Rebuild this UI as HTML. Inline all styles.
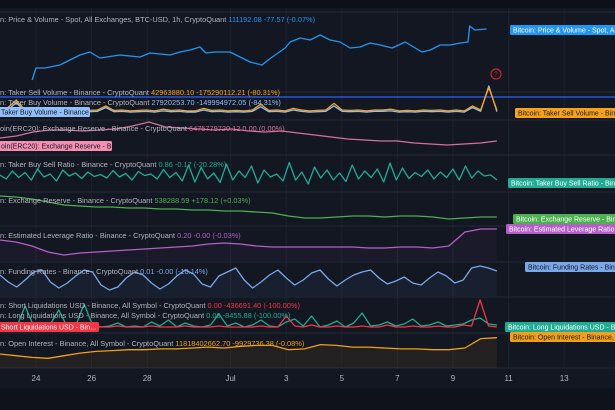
<!DOCTYPE html>
<html><head><meta charset="utf-8">
<style>
html,body{margin:0;padding:0;background:#131722;}
#wrap{position:relative;width:615px;height:410px;overflow:hidden;background:#131722;font-family:"Liberation Sans",sans-serif;}
svg{position:absolute;left:0;top:0;}
</style></head>
<body>
<div id="wrap">
<svg id="chart" width="615" height="410"></svg>
</div>
<script>
// ---- data ----
const dayTicks = ["24","26","28","Jul","3","5","7","9","11","13"];
const dayTickValues = [24,26,28,31,33,35,37,39,41,43];
const priceTimes = [23.86,24.0,24.32,24.86,25.58,25.94,26.3,27.02,27.74,28.1,28.82,29.18,29.54,29.9,30.11,30.44,30.98,31.34,31.7,32.13,32.35,32.96,33.14,33.5,33.86,34.22,34.58,34.94,35.3,35.66,36.02,36.38,36.81,37.28,37.64,37.89,38.18,38.54,38.9,39.26,39.54,39.6,39.78,40.2];
const priceValues = [99750,102375,102375,103031,105219,105875,104563,105219,104781,105656,105219,105875,106313,106969,105656,105875,105875,104781,103688,103031,104125,106750,108063,108938,108500,109594,108500,108063,106750,106969,107844,107406,106750,108063,106750,105875,106313,107406,107406,107844,108063,111563,110688,110906];
const takerSellM = [60,90,180,70,60,50,55,50,60,70,50,55,60,110,55,60,50,55,60,50,70,55,60,50,50,80,55,60,50,55,50,60,130,55,60,50,80,60,50,55,60,140,60,55,60,50,60,60,70,50,55,50,60,55,60,50,60,50,110,60,330,60];
const takerBuyM = [40,60,150,50,40,35,40,35,45,50,35,40,45,90,40,45,35,40,45,35,50,40,45,35,35,60,40,45,35,40,35,45,100,40,45,35,60,45,35,40,45,110,45,40,45,35,45,45,50,35,40,35,45,40,45,35,45,35,90,45,350,40];
const erc20Reserve = [6.42,6.44,6.48,6.50,6.50,6.49,6.50,6.51,6.54,6.58,6.53,6.52,6.51,6.50,6.51,6.49,6.48,6.49,6.47,6.45,6.43,6.41,6.40,6.39,6.39,6.37,6.36,6.35,6.36,6.37,6.39];
const buySellRatio = [1.0,0.92,1.08,0.95,1.05,0.9,1.12,0.96,1.02,0.88,1.1,0.98,1.04,0.93,1.06,0.97,1.01,0.94,1.09,0.96,1.03,0.9,1.07,0.99,1.02,0.92,1.11,0.95,1.05,0.88,1.2,0.86,1.15,0.92,1.04,0.85,1.22,0.9,1.08,0.95,1.18,0.84,1.1,0.96,1.02,0.88,1.25,0.9,1.06,0.82,1.16,0.94,1.1,0.9,1.04,0.87,1.2,0.92,1.08,0.95,1.12,0.86,1.24,0.9,1.14,0.93,1.05,0.97,1.1,0.92,1.06,0.95,1.12,0.9,1.18,0.94,1.08,0.98,1.0,0.9];
const exchReserve = [545750,545375,544625,543500,542375,542000,541625,541625,541250,541250,540875,540875,540500,540500,540125,540125,539750,539375,538250,537500,537500,537875,538250,538250,537875,538250,538250,537875,537125,537500,537875,537875];
const leverage = [0.1925,0.19,0.185,0.1775,0.17375,0.17625,0.1775,0.17875,0.18,0.18125,0.1825,0.18375,0.185,0.1875,0.18875,0.1875,0.185,0.18375,0.18375,0.18375,0.18375,0.18375,0.18375,0.1825,0.1825,0.18375,0.18375,0.1825,0.185,0.2025,0.20625,0.20625];
const funding = [0.0068,0.004,0.002,0.0048,0.008,0.0088,0.004,0.0016,0.0036,0.0064,0.0088,0.008,0.0028,0.0008,0.002,0.0056,0.008,0.0068,0.0036,0.0012,0.0032,0.0064,0.0088,0.0072,0.0032,0.002,0.0064,0.008,0.0096,0.0048,0.0016,0.004,0.0068,0.0088,0.0056,0.0028,0.0048,0.0076,0.0088,0.0052,0.0024,0.0048,0.0068,0.008,0.0088,0.0056,0.0032,0.0044,0.006,0.0036,0.0028,0.0056,0.008,0.0064,0.0036,0.0048,0.0096,0.0104,0.0096,0.0084];
const longLiqM = [0.1,0.3,0.1,2.2,0.2,0.1,0.4,1.8,0.1,0.2,2.4,0.3,0.1,0.2,0.5,0.1,0.2,0.1,0.6,0.2,0.8,0.1,0.5,0.2,0.1,0.3,1.4,0.2,0.5,0.1,0.3,0.8,0.2,0.1,0.6,0.9,0.2,1.2,0.1,0.3,0.7,0.1,0.5,1.5,0.2,0.3,0.6,0.2,0.4,0.9,0.2,0.3,0.6,0.2,0.3,0.4,0.8,1.0,0.4,0.3];
const shortLiqM = [0.1,0.1,0.2,0.3,0.1,0.1,0.2,0.1,0.1,0.1,0.2,0.1,0.1,0.1,0.2,0.1,0.1,0.1,0.2,0.1,0.1,0.1,0.2,0.1,0.1,0.1,0.2,0.1,0.1,0.1,0.1,0.2,0.1,0.1,1.2,0.2,0.1,0.3,0.1,0.1,0.2,0.1,0.1,0.2,0.1,0.1,0.3,0.1,0.1,0.2,0.1,0.1,0.2,0.1,0.1,0.3,0.2,2.8,0.2,0.1];
const openInterestB = [11.42,11.38,11.34,11.32,11.38,11.44,11.48,11.50,11.52,11.52,11.54,11.54,11.56,11.58,11.56,11.60,11.62,11.62,11.52,11.54,11.64,11.62,11.58,11.58,11.56,11.54,11.54,11.52,11.52,11.56,11.78,11.80];

// ---- scales ----
const T0 = 22.7, T1 = 40.58;
function xOfT(t){ return 36 + (t-24)*27.8; }
function tOfIndex(i,n){ return T0 + i*(T1-T0)/(n-1); }
function yScale(v,dmin,dmax,yMin,yMax){ return yMin + (v-dmin)/(dmax-dmin)*(yMax-yMin); }

const svg = document.getElementById('chart');
const NS = 'http://www.w3.org/2000/svg';
function el(tag, attrs, parent){ const e=document.createElementNS(NS,tag); for(const k in attrs) e.setAttribute(k,attrs[k]); (parent||svg).appendChild(e); return e; }

let r = el('rect',{x:0,y:0,width:615,height:8,fill:'#0e1017'});


r = el('rect',{x:0,y:388,width:615,height:22,fill:'#0f121a'});



dayTickValues.forEach((d,i)=>{
  const x = xOfT(d);
  const g = el('line',{x1:x,x2:x,y1:8,y2:368,stroke:'#1e2230','stroke-width':1});
  
  
  const t = el('text',{x:x,y:381,fill:'#b2b5be','font-size':8,'text-anchor':'middle'});
  t.textContent = dayTicks[i];
  
  
});
[12,92,120,155,192,226,262,297,333,368].forEach(y=>{
  const s = el('line',{x1:0,x2:615,y1:y,y2:y,stroke:'#262a37','stroke-width':1});
  
  
});

function lineSeries(times, vals, dmin,dmax,yMin,yMax,color,name,fill,fillBase){
  const pts = vals.map((v,i)=>[xOfT(times?times[i]:tOfIndex(i,vals.length)), yScale(v,dmin,dmax,yMin,yMax)]);
  const d = pts.map((p,i)=>(i?'L':'M')+p[0].toFixed(1)+' '+p[1].toFixed(1)).join(' ');
  if(fill){
    const a = el('path',{d:d+' L'+pts[pts.length-1][0].toFixed(1)+' '+fillBase+' L'+pts[0][0].toFixed(1)+' '+fillBase+' Z',fill:fill});
    
    
  }
  const p = el('path',{d:d,fill:'none',stroke:color,'stroke-width':1.3,'stroke-linejoin':'round'});
  
  
}

let hl = el('line',{x1:0,x2:615,y1:97,y2:97,stroke:'#2962ff','stroke-width':1.2});



lineSeries(priceTimes, priceValues, 98000,112000,88,24,'#2196f3','price-line');
lineSeries(null, takerBuyM, 0,350,115,86,'#90bff9','taker-buy-volume-line');
lineSeries(null, takerSellM, 0,350,115,86,'#f7a21b','taker-sell-volume-line');
lineSeries(null, erc20Reserve, 6.30,6.60,150,120,'#d6709a','erc20-reserve-line');
lineSeries(null, buySellRatio, 0.7,1.3,190,160,'#22ab94','buy-sell-ratio-line');
lineSeries(null, exchReserve, 536000,548000,222,190,'#4caf50','exchange-reserve-line');
lineSeries(null, leverage, 0.17,0.21,258,226,'#b45fc7','leverage-ratio-line','rgba(180,95,199,0.05)',261);
lineSeries(null, funding, 0,0.012,292,262,'#7aa7e8','funding-rate-line','rgba(122,167,232,0.06)',296);
lineSeries(null, longLiqM, 0,3,328,298,'#22ab94','long-liquidations-line');
lineSeries(null, shortLiqM, 0,3,328,298,'#f23645','short-liquidations-line');
lineSeries(null, openInterestB, 11.0,11.84,372,336,'#f0a01a','open-interest-line','rgba(240,160,26,0.07)',368);

const titles = [
 [22,[['n: Price & Volume - Spot, All Exchanges, BTC-USD, 1h, CryptoQuant  ','#b2b5be'],['111192.08  -77.57 (-0.07%)','#2196f3']]],
 [95,[['n: Taker Sell Volume - Binance - CryptoQuant  ','#b2b5be'],['42963880.10  -175290112.21 (-80.31%)','#f7a21b']]],
 [105,[['n: Taker Buy Volume - Binance - CryptoQuant  ','#b2b5be'],['27920253.70  -149994972.05 (-84.31%)','#90bff9']]],
 [131,[['oin(ERC20): Exchange Reserve - Binance - CryptoQuant  ','#b2b5be'],['6475779720.12  0.00 (0.00%)','#d6709a']]],
 [167,[['n: Taker Buy Sell Ratio - Binance - CryptoQuant  ','#b2b5be'],['0.86  -0.17 (-20.28%)','#22ab94']]],
 [203,[['n: Exchange Reserve - Binance - CryptoQuant  ','#b2b5be'],['538288.59  +178.12 (+0.03%)','#4caf50']]],
 [238,[['n: Estimated Leverage Ratio - Binance - CryptoQuant  ','#b2b5be'],['0.20  -0.00 (-0.03%)','#b45fc7']]],
 [274,[['n: Funding Rates - Binance - CryptoQuant  ','#b2b5be'],['0.01  -0.00 (-10.14%)','#7aa7e8']]],
 [308,[['n: Short Liquidations USD - Binance, All Symbol - CryptoQuant  ','#b2b5be'],['0.00  -436691.40 (-100.00%)','#f23645']]],
 [318,[['n: Long Liquidations USD - Binance, All Symbol - CryptoQuant  ','#b2b5be'],['0.00  -8455.88 (-100.00%)','#22ab94']]],
 [346,[['n: Open Interest - Binance, All Symbol - CryptoQuant  ','#b2b5be'],['11818402662.70  -9929736.38 (-0.08%)','#f0a01a']]]
];
titles.forEach(tt=>{
  const t = el('text',{x:0,y:tt[0],'font-size':7.4,'xml:space':'preserve'});
  
  
  tt[1].forEach(s=>{ const sp=el('tspan',{fill:s[1]},t); sp.textContent=s[0]; });
});

function tag(x,y,w,text,bg,fg,name){
  const g = el('g',{});
  
  
  el('rect',{x:x,y:y,width:w,height:10,rx:1.5,fill:bg},g);
  const t = el('text',{x:x+3,y:y+7.6,'font-size':7,fill:fg},g);
  t.textContent = text;
}
tag(510,25,110,'Bitcoin: Price & Volume - Spot, All','#2196f3','#ffffff','price-tag');
tag(515,108,110,'Bitcoin: Taker Sell Volume - Binance','#f7a21b','#131722','taker-sell-tag');
tag(508,178,110,'Bitcoin: Taker Buy Sell Ratio - Binance','#22ab94','#ffffff','buy-sell-ratio-tag');
tag(513,214,110,'Bitcoin: Exchange Reserve - Binance','#4caf50','#ffffff','exchange-reserve-tag');
tag(506,224,115,'Bitcoin: Estimated Leverage Ratio','#b45fc7','#ffffff','leverage-tag');
tag(525,262,95,'Bitcoin: Funding Rates - Binance','#7aa7e8','#131722','funding-tag');
tag(505,322,115,'Bitcoin: Long Liquidations USD - Binance','#22ab94','#ffffff','long-liq-tag');
tag(510,332,110,'Bitcoin: Open Interest - Binance,','#f0a01a','#131722','open-interest-tag');
tag(-2,107,92,'Taker Buy Volume - Binance','#90bff9','#131722','taker-buy-left-tag');
tag(-2,141,114,'oin(ERC20): Exchange Reserve - B...','#f48fb1','#131722','erc20-left-tag');
tag(-2,322,101,'Short Liquidations USD - Bin...','#f23645','#ffffff','short-liq-left-tag');

const q = el('g',{});


el('circle',{cx:496,cy:74,r:5,fill:'none',stroke:'#c62828','stroke-width':1.2},q);
const qt = el('text',{x:496,y:76.5,'font-size':7,fill:'#c62828','text-anchor':'middle'},q);
qt.textContent='?';
</script>
</body></html>
